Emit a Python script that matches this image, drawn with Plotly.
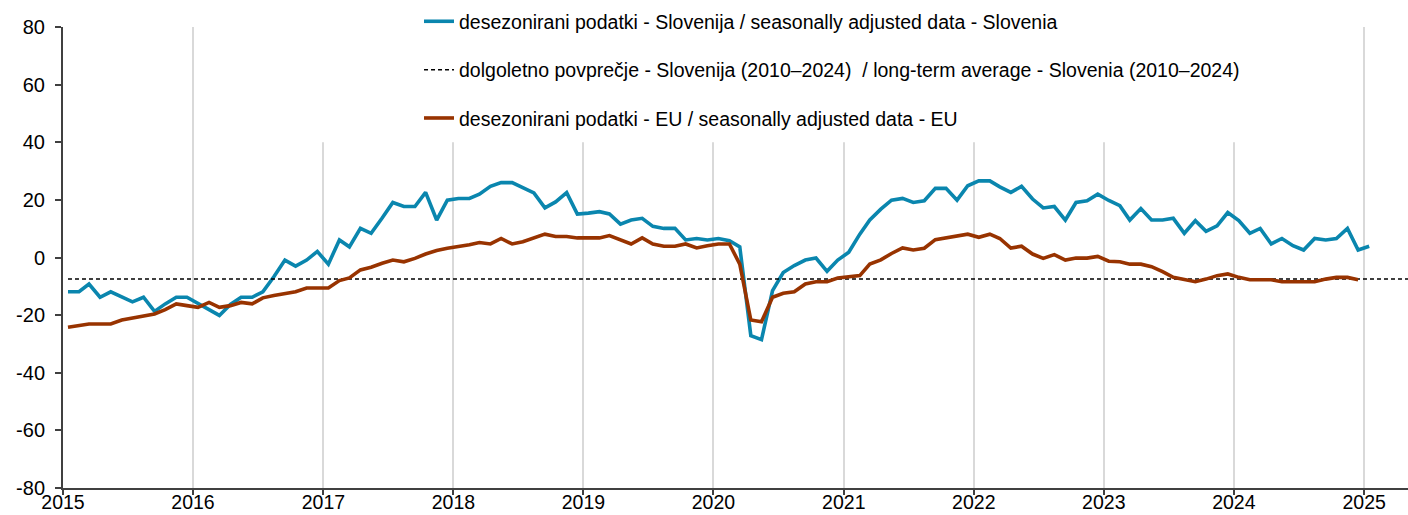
import plotly.graph_objects as go

# ---------------- data ----------------
start_year = 2015
si_values = [
    -11.9, -11.9, -9.2, -13.8, -11.9, -13.6, -15.4, -13.8, -18.7, -16.1, -13.8, -13.8,   # 2015
    -15.9, -17.9, -20.1, -16.3, -13.8, -13.8, -11.9, -6.7, -0.9, -3.0, -0.9, 2.1,        # 2016
    -2.3, 6.1, 3.7, 10.1, 8.4, 13.7, 19.1, 17.7, 17.7, 22.6, 13.0, 19.9,                 # 2017
    20.5, 20.5, 22.0, 24.7, 26.0, 26.0, 24.1, 22.4, 17.2, 19.3, 22.5, 15.1,              # 2018
    15.4, 15.9, 15.1, 11.6, 13.0, 13.6, 10.8, 10.1, 10.1, 6.1, 6.6, 6.1,                 # 2019
    6.6, 5.8, 3.7, -27.1, -28.5, -11.5, -5.2, -2.8, -0.9, -0.2, -4.8, -0.9,              # 2020
    1.8, 8.1, 13.0, 16.8, 19.9, 20.5, 19.1, 19.7, 24.0, 24.0, 19.9, 24.9,                # 2021
    26.6, 26.6, 24.5, 22.6, 24.7, 20.3, 17.2, 17.7, 13.0, 19.1, 19.7, 22.0,              # 2022
    19.8, 18.0, 13.0, 17.0, 13.0, 13.0, 13.6, 8.4, 12.8, 9.1, 11.0, 15.6,                # 2023
    12.8, 8.4, 10.1, 4.7, 6.6, 4.1, 2.6, 6.6, 6.1, 6.6, 10.1, 2.6,                       # 2024
    3.9,                                                                                 # 2025
]
eu_values = [
    -24.2, -23.6, -23.1, -23.1, -23.1, -21.7, -21.0, -20.2, -19.6, -18.1, -16.1, -16.7,  # 2015
    -17.3, -15.6, -17.3, -16.7, -15.6, -16.1, -14.0, -13.2, -12.7, -11.9, -10.6, -10.6,  # 2016
    -10.6, -8.0, -7.1, -4.3, -3.4, -2.0, -0.9, -1.5, -0.3, 1.2, 2.4, 3.2,                # 2017
    3.7, 4.4, 5.2, 4.7, 6.6, 4.7, 5.5, 6.8, 8.1, 7.3, 7.3, 6.8,                          # 2018
    6.8, 6.8, 7.6, 6.2, 4.7, 6.8, 4.7, 3.9, 3.9, 4.7, 3.3, 4.1,                          # 2019
    4.7, 4.7, -2.3, -21.7, -22.3, -13.8, -12.4, -11.9, -9.2, -8.4, -8.4, -7.1,           # 2020
    -6.6, -6.3, -2.3, -0.8, 1.4, 3.3, 2.6, 3.2, 6.2, 6.8, 7.3, 8.1,                      # 2021
    7.0, 8.1, 6.6, 3.3, 3.9, 1.2, -0.3, 1.0, -0.9, -0.2, -0.2, 0.4,                      # 2022
    -1.3, -1.5, -2.3, -2.3, -3.2, -4.9, -6.9, -7.7, -8.4, -7.5, -6.3, -5.7,              # 2023
    -6.9, -7.7, -7.7, -7.7, -8.4, -8.4, -8.4, -8.4, -7.5, -6.9, -6.9, -7.7,              # 2024
]
long_term_average = -7.5
year_ticks = [str(y) for y in range(2015, 2026)]
y_ticks = [-80, -60, -40, -20, 0, 20, 40, 60, 80]
y_tick_labels = ["-80", "-60", "-40", "-20", "0", "20", "40", "60", "80"]

name_si = "desezonirani podatki - Slovenija / seasonally adjusted data - Slovenia"
name_avg = "dolgoletno povprečje - Slovenija (2010–2024)  / long-term average - Slovenia (2010–2024)"
name_eu = "desezonirani podatki - EU / seasonally adjusted data - EU"


def month_dates(n):
    return [f"{start_year + i // 12}-{i % 12 + 1:02d}-15" for i in range(n)]


si_dates = month_dates(len(si_values))
eu_dates = month_dates(len(eu_values))
avg_dates = month_dates(126)

BLUE = "#0A86AE"
BROWN = "#983300"
FONT = "Liberation Sans, Arial, sans-serif"

fig = go.Figure()
fig.add_trace(go.Scatter(x=si_dates, y=si_values, mode="lines", name=name_si,
                         legendgroup="a", line=dict(color=BLUE, width=3.6)))
fig.add_trace(go.Scatter(x=avg_dates, y=[long_term_average] * len(avg_dates), mode="lines",
                         name=name_avg, legendgroup="b",
                         line=dict(color="black", width=1.5, dash="4px,3px")))
fig.add_trace(go.Scatter(x=eu_dates, y=eu_values, mode="lines", name=name_eu,
                         legendgroup="c", line=dict(color=BROWN, width=3.6)))

# white patch behind the legend (hides gridlines there)
fig.add_shape(type="rect", xref="x", yref="y", x0="2016-07-01", x1="2024-07-01",
              y0=40, y1=80, fillcolor="white", line=dict(width=0), layer="between")

fig.update_layout(
    width=1408, height=515,
    margin=dict(l=63, r=0, t=27, b=27),
    paper_bgcolor="white", plot_bgcolor="white",
    font=dict(family=FONT, size=20, color="#000000"),
    showlegend=True,
    legend=dict(x=0.2647, y=1.054, xanchor="left", yanchor="top",
                bgcolor="rgba(0,0,0,0)", font=dict(size=19.5, family=FONT),
                traceorder="grouped", tracegroupgap=20, itemwidth=30),
    xaxis=dict(type="date", range=["2015-01-01", "2025-05-04"],
               tickvals=[f"{y}-01-01" for y in year_ticks], ticktext=year_ticks,
               showgrid=True, gridcolor="#D9D9D9", gridwidth=2,
               showline=True, linecolor="#404040", linewidth=2,
               ticks="outside", ticklen=5, tickcolor="#404040", tickwidth=2,
               zeroline=False, tickfont=dict(size=19.5), automargin=False,
               ticklabelstandoff=-9),
    yaxis=dict(range=[-80, 80], tickvals=y_ticks, ticktext=y_tick_labels,
               showgrid=False, zeroline=False,
               showline=True, linecolor="#404040", linewidth=2,
               ticks="outside", ticklen=6, tickcolor="#404040", tickwidth=2,
               tickfont=dict(size=20), automargin=False, ticklabelstandoff=6),
)

fig.write_html("out.html", config={"displayModeBar": False},
               post_script="document.body.style.margin='0';document.body.style.overflow='hidden';")
